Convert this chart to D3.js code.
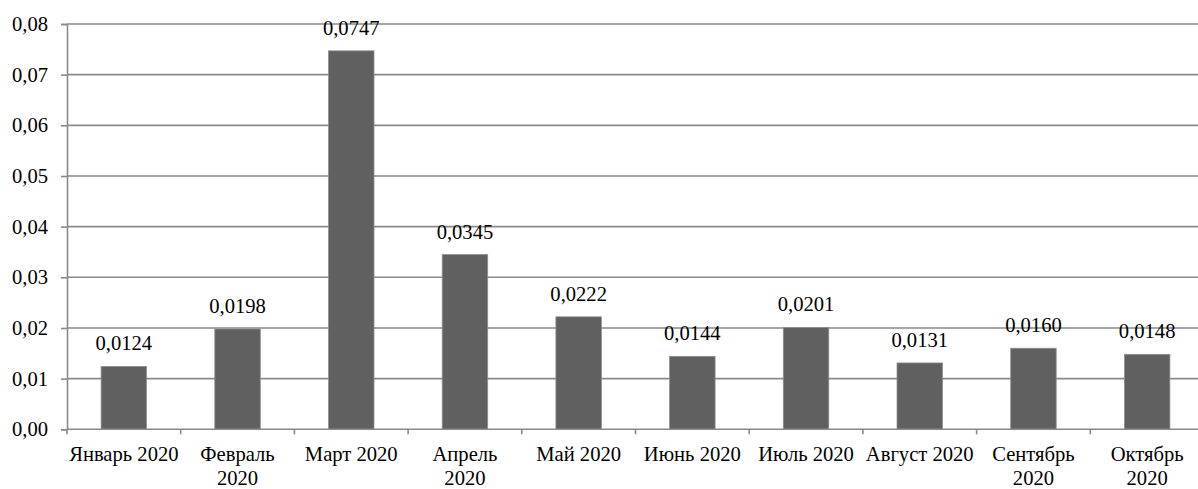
<!DOCTYPE html>
<html lang="ru">
<head>
<meta charset="utf-8">
<script src="https://cdn.jsdelivr.net/npm/d3@7"></script>
<style>
  html, body { margin: 0; padding: 0; background: #fff; overflow: hidden; }
  svg { display: block; }
  svg text { font-family: "Liberation Serif", "Times New Roman", "DejaVu Serif", serif !important; }
</style>
</head>
<body>
<svg id="chart" width="1198" height="489"></svg>
<script>
// Monthly values, January–October 2020
const months = [
  "Январь 2020", "Февраль 2020", "Март 2020", "Апрель 2020", "Май 2020",
  "Июнь 2020", "Июль 2020", "Август 2020", "Сентябрь 2020", "Октябрь 2020"
];
const values = [0.0124, 0.0198, 0.0747, 0.0345, 0.0222, 0.0144, 0.0201, 0.0131, 0.0160, 0.0148];
// Axis labels that wrap onto two lines
const labelLines = [
  ["Январь 2020"], ["Февраль", "2020"], ["Март 2020"], ["Апрель", "2020"], ["Май 2020"],
  ["Июнь 2020"], ["Июль 2020"], ["Август 2020"], ["Сентябрь", "2020"], ["Октябрь", "2020"]
];
const yTicks = [0, 0.01, 0.02, 0.03, 0.04, 0.05, 0.06, 0.07, 0.08];

(function draw() {
  const svg = d3.select("#chart");
  const plotLeft = 67, plotRight = 1204, plotTop = 24, plotBottom = 429.3;
  const fontSize = 20.6;
  const serif = "Liberation Serif";
  const gridColor = "#8a8a8a";
  const comma = v => v.toFixed(4).replace(".", ",");

  const x = d3.scaleBand().domain(months).range([plotLeft, plotRight])
    .paddingInner(0.6).paddingOuter(0.3);
  const y = d3.scaleLinear().domain([0, 0.08]).range([plotBottom, plotTop]);

  // Horizontal gridlines
  svg.append("g").selectAll("line").data(yTicks.filter(d => d > 0)).join("line")
    .attr("x1", plotLeft).attr("x2", plotRight)
    .attr("y1", d => y(d)).attr("y2", d => y(d))
    .attr("stroke", gridColor).attr("stroke-width", 1.6);

  // Y axis
  const yAxis = svg.append("g").attr("transform", `translate(${plotLeft},0)`)
    .call(d3.axisLeft(y).tickValues(yTicks).tickSize(6).tickPadding(13)
      .tickFormat(d => d.toFixed(2).replace(".", ",")));
  yAxis.attr("font-family", serif).attr("font-size", fontSize);
  yAxis.select(".domain").attr("stroke", gridColor).attr("stroke-width", 1.6);
  yAxis.selectAll(".tick line").attr("stroke", gridColor).attr("stroke-width", 1.6);
  yAxis.selectAll(".tick text").attr("fill", "#000");

  // Bars
  svg.append("g").selectAll("rect").data(values).join("rect")
    .attr("x", (d, i) => x(months[i]))
    .attr("width", x.bandwidth())
    .attr("y", d => y(d))
    .attr("height", d => y(0) - y(d))
    .attr("fill", "#606060")
    .attr("stroke", "#8f8f8f").attr("stroke-width", 0.8);

  // Value labels above bars
  svg.append("g").attr("font-family", serif).attr("font-size", fontSize)
    .selectAll("text").data(values).join("text")
    .attr("x", (d, i) => x(months[i]) + x.bandwidth() / 2)
    .attr("y", d => y(d) - 16)
    .attr("text-anchor", "middle")
    .attr("fill", "#000")
    .text(d => comma(d));

  // X axis line and category boundary ticks
  const step = x.step();
  svg.append("line").attr("x1", plotLeft).attr("x2", plotRight)
    .attr("y1", plotBottom).attr("y2", plotBottom)
    .attr("stroke", gridColor).attr("stroke-width", 1.6);
  svg.append("g").selectAll("line").data(d3.range(months.length + 1)).join("line")
    .attr("x1", i => plotLeft + i * step).attr("x2", i => plotLeft + i * step)
    .attr("y1", plotBottom).attr("y2", plotBottom + 5)
    .attr("stroke", gridColor).attr("stroke-width", 1.6);

  // Category labels
  const xl = svg.append("g").attr("font-family", serif).attr("font-size", fontSize)
    .selectAll("text").data(months).join("text")
    .attr("x", d => x(d) + x.bandwidth() / 2)
    .attr("y", 461)
    .attr("text-anchor", "middle")
    .attr("fill", "#000");
  xl.each(function(d, i) {
    d3.select(this).selectAll("tspan").data(labelLines[i]).join("tspan")
      .attr("x", x(d) + x.bandwidth() / 2)
      .attr("dy", (t, j) => j === 0 ? 0 : 24)
      .text(t => t);
  });
})();
</script>
</body>
</html>
